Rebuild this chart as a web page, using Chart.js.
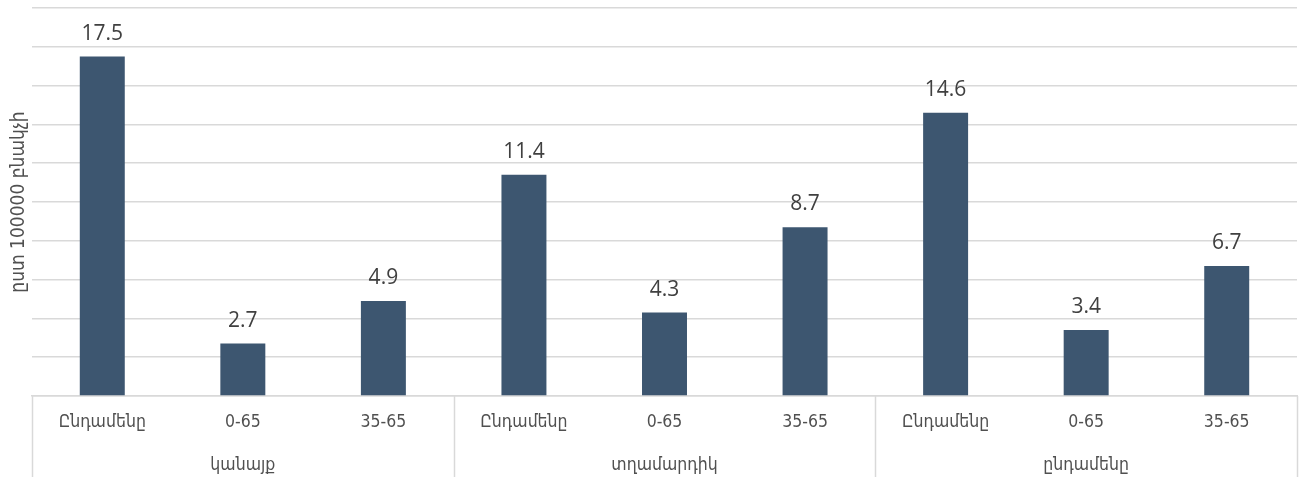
<!DOCTYPE html>
<html>
<head>
<meta charset="utf-8">
<script src="https://cdn.jsdelivr.net/npm/chart.js@4.4.1/dist/chart.umd.min.js"></script>
<style>
  html, body { margin: 0; padding: 0; background: #fff; }
  #wrap { width: 1303px; height: 477px; }
</style>
</head>
<body>
<div id="wrap"><canvas id="myChart"></canvas></div>
<script>
/* global Chart */

// data
const groupLabels = ['կանայք', 'տղամարդիկ', 'ընդամենը'];
const categories = ['Ընդամենը', '0-65', '35-65', 'Ընդամենը', '0-65', '35-65', 'Ընդամենը', '0-65', '35-65'];
const values = [17.5, 2.7, 4.9, 11.4, 4.3, 8.7, 14.6, 3.4, 6.7];
const yTitle = 'ըստ 100000 բնակչի';

const labelFont = '"Liberation Sans Narrow", "DejaVu Sans Condensed", sans-serif';
const lineColor = '#d9d9d9';
const textColor = '#404040';
const axisTextColor = '#505050';

// value above each bar
const barValues = {
  id: 'barValues',
  afterDatasetsDraw(chart) {
    const ctx = chart.ctx;
    const meta = chart.getDatasetMeta(0);
    ctx.save();
    ctx.font = '21px "Open Sans", sans-serif';
    ctx.fillStyle = textColor;
    ctx.textAlign = 'center';
    ctx.textBaseline = 'alphabetic';
    meta.data.forEach(function(bar, i) {
      ctx.fillText(values[i].toFixed(1), bar.x, bar.y - 17);
    });
    ctx.restore();
  }
};

// second row of x labels + separators
const groupAxis = {
  id: 'groupAxis',
  afterDraw(chart) {
    const ctx = chart.ctx;
    const x = chart.scales.x;
    const step = x.width / categories.length;
    const per = categories.length / groupLabels.length;
    ctx.save();
    ctx.strokeStyle = lineColor;
    ctx.lineWidth = 1.5;
    for (let g = 0; g <= groupLabels.length; g++) {
      const px = Math.round(x.left + g * per * step) + 0.5;
      ctx.beginPath();
      ctx.moveTo(px, x.top);
      ctx.lineTo(px, chart.height);
      ctx.stroke();
    }
    ctx.font = '17.5px ' + labelFont;
    ctx.fillStyle = axisTextColor;
    ctx.textAlign = 'center';
    ctx.textBaseline = 'middle';
    groupLabels.forEach(function(lbl, g) {
      ctx.fillText(lbl, x.left + (g + 0.5) * per * step, x.top + 69);
    });
    ctx.restore();
  }
};

const ctx = document.getElementById('myChart').getContext('2d');

const chart = new Chart(ctx, {
  type: 'bar',
  data: {
    labels: categories,
    datasets: [{
      data: values,
      backgroundColor: '#3d5670',
      borderColor: '#3d5670',
      borderWidth: 0,
      barPercentage: 0.32,
      categoryPercentage: 1,
    }]
  },
  options: {
    responsive: true,
    maintainAspectRatio: false,
    animation: false,
    layout: { padding: { top: 8, right: 6, left: 0, bottom: 0 } },
    plugins: {
      legend: { display: false },
      tooltip: { enabled: false },
    },
    scales: {
      x: {
        grid: { display: false, drawTicks: false },
        border: { display: true, color: lineColor, width: 1.5 },
        ticks: {
          color: axisTextColor,
          font: { family: labelFont, size: 17.5 },
          padding: 16,
          maxRotation: 0,
          autoSkip: false,
        },
        afterFit(scale) { scale.height = 81; },
      },
      y: {
        min: 0,
        max: 20,
        ticks: { display: false, stepSize: 2 },
        grid: { color: lineColor, lineWidth: 1.5, drawTicks: false },
        border: { display: false },
        title: {
          display: true,
          text: yTitle,
          color: axisTextColor,
          font: { family: labelFont, size: 19 },
          padding: { top: 8, bottom: 0 },
        },
        afterFit(scale) { scale.width = 32; },
      }
    }
  },
  plugins: [barValues, groupAxis]
});
</script>
</body>
</html>
